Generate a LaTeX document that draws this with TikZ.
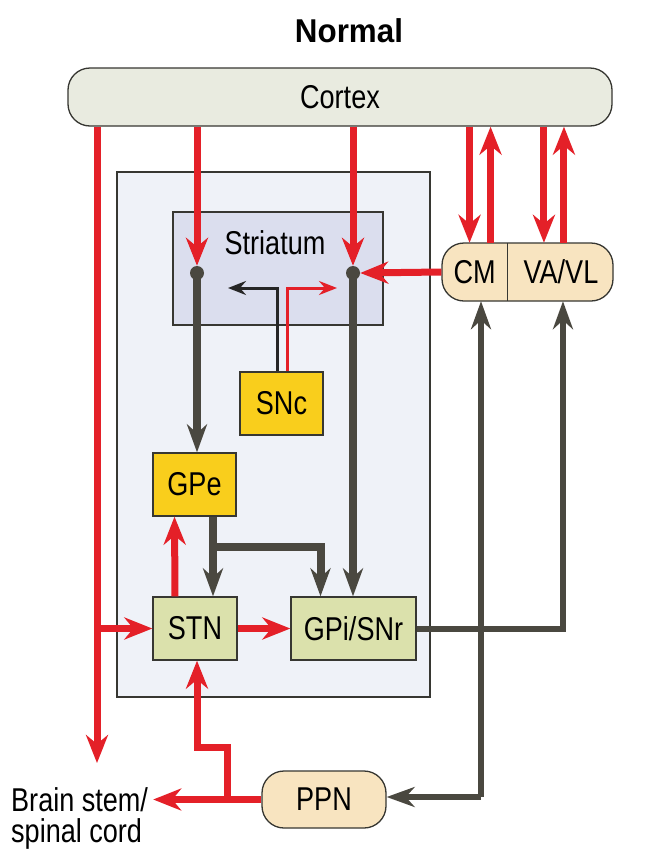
\documentclass[tikz,border=0pt]{standalone}
\usepackage{fontspec}
\setmainfont{Liberation Sans}[FakeStretch=0.82]
\newfontfamily\titlefont{Liberation Sans}[FakeStretch=0.95]
\usetikzlibrary{arrows.meta,positioning,calc}

\definecolor{exred}{RGB}{228,32,40}
\definecolor{inhdark}{RGB}{74,72,64}
\definecolor{edgegray}{RGB}{55,55,50}
\definecolor{cortexfill}{RGB}{233,235,224}
\definecolor{basalfill}{RGB}{239,242,248}
\definecolor{striatfill}{RGB}{219,222,238}
\definecolor{nucyellow}{RGB}{249,206,28}
\definecolor{nucgreen}{RGB}{219,225,172}
\definecolor{nucbeige}{RGB}{248,228,192}

\begin{document}
\begin{tikzpicture}[
    x=1pt, y=-1pt,
    font=\fontsize{33}{31}\selectfont,
    regionbox/.style={draw=edgegray, line width=1.3pt, inner sep=0pt},
    nucbox/.style={draw=edgegray, line width=1.3pt, inner sep=0pt, minimum height=63pt},
    roundbox/.style={draw=edgegray, line width=1.3pt, rounded corners=22pt, inner sep=0pt, minimum height=58pt},
    synapse/.style={circle, fill=inhdark, minimum size=14pt, inner sep=0pt},
    excit/.style={draw=exred, line width=7pt, -{Stealth[length=28pt, width=22pt, inset=9pt]}},
    inhib/.style={draw=inhdark, line width=8pt, -{Stealth[length=28pt, width=20pt, inset=9pt]}},
    modthin/.style={line width=3pt, -{Stealth[length=18pt, width=14pt, inset=6pt]}}
]
    \path[use as bounding box, fill=white] (0,0) rectangle (646,849);

    % --- Title and cortex ---
    \node[font=\titlefont\bfseries\fontsize{33}{36}\selectfont, anchor=base] (title) at (349, 42) {Normal};
    \node[roundbox, fill=cortexfill, minimum width=544pt] (cortex) at (340, 97) {Cortex};

    % --- Basal ganglia ---
    \node[regionbox, fill=basalfill, minimum width=313pt, minimum height=525pt] (basal) at (273.5, 434.5) {};
    \node[regionbox, fill=striatfill, minimum width=210pt, minimum height=113pt] (striatum) at (278, 268.5) {};
    \node (striatumlabel) at (275, 243) {Striatum};
    \node[synapse] (synL) at (197, 273) {};
    \node[synapse] (synR) at (353, 273) {};
    \node[nucbox, fill=nucyellow, minimum width=83pt] (snc) at (281.5, 403.5) {SNc};
    \node[nucbox, fill=nucyellow, minimum width=83pt] (gpe) at (194.5, 484.5) {GPe};
    \node[nucbox, fill=nucgreen, minimum width=84pt] (stn) at (195, 628.5) {STN};
    \node[nucbox, fill=nucgreen, minimum width=125pt] (gpi) at (353.5, 628.5) {GPi/SNr};

    % --- Thalamus, PPN, brain stem ---
    \node[roundbox, fill=nucbeige, minimum width=171pt] (thal) at (527.5, 272) {};
    \node[anchor=west, minimum width=66pt, minimum height=58pt, inner sep=0pt] (cm) at (thal.west) {CM};
    \node[anchor=east, minimum width=105pt, minimum height=58pt, inner sep=0pt] (vavl) at (thal.east) {VA/VL};
    \draw[draw=edgegray, line width=1.3pt] (cm.north east) -- (cm.south east);
    \node[roundbox, fill=nucbeige, minimum width=124pt, minimum height=57pt] (ppn) at (324, 799.5) {PPN};
    \node[anchor=north west, align=left, inner sep=0pt] (brainstem) at (11, 787) {Brain stem/\\spinal cord};

    % --- Excitatory projections (red) ---
    \coordinate (spinal) at (97, 763);
    \draw[excit] (cortex.south -| spinal) -- (spinal);
    \draw[excit] (spinal |- stn.west) -- (stn.west);
    \draw[excit] (cortex.south -| synL) -- (synL.north);
    \draw[excit] (cortex.south -| synR) -- (synR.north);
    \draw[excit] ([xshift=-5pt]cm.north |- cortex.south) -- ([xshift=-5pt]cm.north);
    \draw[excit] ([xshift=16pt]cm.north) -- ([xshift=16pt]cm.north |- cortex.south);
    \draw[excit] ([xshift=-17pt]vavl.north |- cortex.south) -- ([xshift=-17pt]vavl.north);
    \draw[excit] ([xshift=3pt]vavl.north) -- ([xshift=3pt]vavl.north |- cortex.south);
    \draw[excit] (cm.west) -- (synR.east);
    \draw[excit] ([xshift=-20pt]stn.north) -- ([xshift=-20pt]gpe.south);
    \draw[excit] (stn.east) -- (gpi.west);
    \draw[excit, shorten >=5pt] (ppn.west) -- (ppn.west -| brainstem.east);
    \coordinate (ppnjog) at (227, 747);
    \draw[excit] (ppnjog |- ppn.west) -- (ppnjog) -| ([xshift=2pt]stn.south);

    % --- Inhibitory projections (dark) ---
    \draw[inhib] (synL.center) -- (synL |- gpe.north);
    \draw[inhib] (synR.center) -- (synR |- gpi.north);
    \coordinate (gpefork) at (213, 547);
    \draw[inhib] (gpefork |- gpe.south) -- (gpefork |- stn.north);
    \draw[inhib] (gpefork) -| ([xshift=-33pt]gpi.north);
    \coordinate (thalfork) at (481, 797);
    \draw[inhib, line width=6pt] (gpi.east) -| ([xshift=2pt]vavl.south);
    \draw[inhib, line width=6pt] (thalfork) -- (thalfork |- cm.south);
    \draw[inhib, line width=6pt] (thalfork) -- (thalfork -| ppn.east);

    % --- Dopamine from SNc ---
    \coordinate (daL) at (228, 288);
    \coordinate (daR) at (337, 288);
    \draw[modthin, draw=black!85] ([xshift=-4pt]snc.north) |- (daL);
    \draw[modthin, draw=exred] ([xshift=6pt]snc.north) |- (daR);

\end{tikzpicture}
\end{document}
